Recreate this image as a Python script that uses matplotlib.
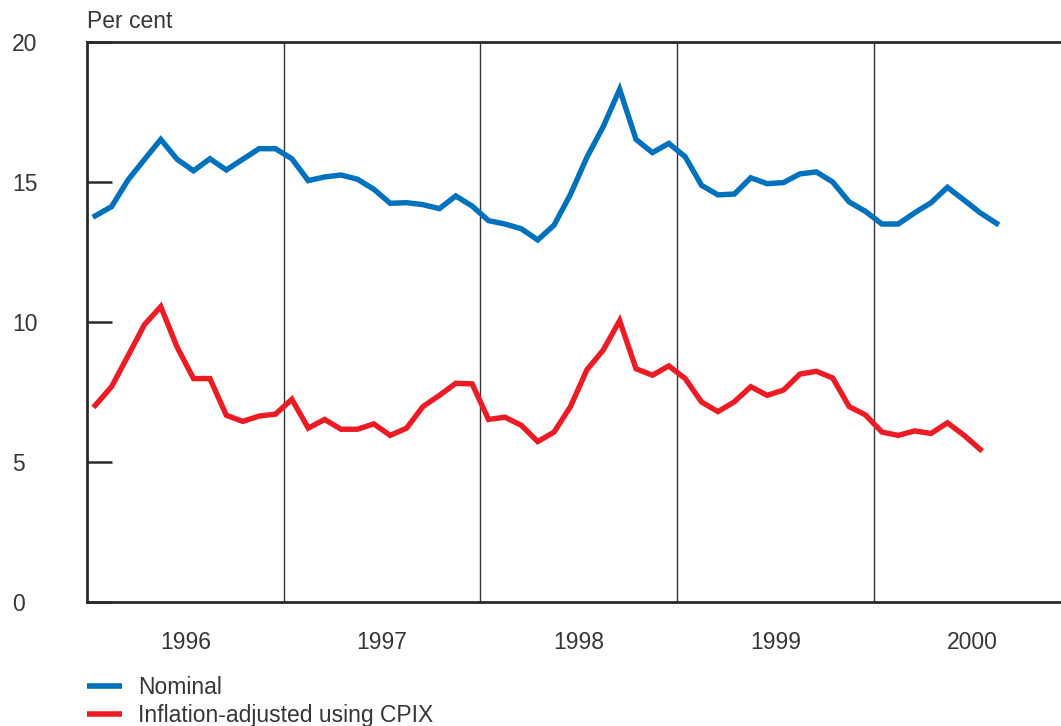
import matplotlib
matplotlib.use("Agg")
import matplotlib.pyplot as plt
import numpy as np

plt.rcParams['font.family'] = ['Liberation Sans', 'DejaVu Sans']

# Monthly data, Jan 1996 onwards
nominal = [13.79, 14.12, 15.07, 15.80, 16.52, 15.81, 15.40, 15.83, 15.43, 15.81, 16.19, 16.19,
           15.83, 15.05, 15.18, 15.25, 15.10, 14.74, 14.24, 14.26, 14.19, 14.05, 14.50, 14.14,
           13.62, 13.50, 13.33, 12.93, 13.46, 14.56, 15.88, 16.98, 18.31, 16.52, 16.05, 16.38,
           15.90, 14.88, 14.54, 14.57, 15.15, 14.94, 14.98, 15.29, 15.36, 15.00, 14.29, 13.95,
           13.50, 13.50, 13.90, 14.26, 14.81, 14.36, 13.90, 13.52]
real_cpix = [7.02, 7.69, 8.79, 9.90, 10.55, 9.10, 7.98, 7.98, 6.67, 6.45, 6.64, 6.71,
             7.24, 6.21, 6.52, 6.17, 6.17, 6.36, 5.95, 6.21, 6.98, 7.38, 7.81, 7.79,
             6.52, 6.60, 6.31, 5.73, 6.07, 6.98, 8.29, 9.00, 10.05, 8.33, 8.10, 8.43,
             7.98, 7.14, 6.80, 7.15, 7.69, 7.38, 7.57, 8.14, 8.24, 8.00, 6.98, 6.68,
             6.07, 5.95, 6.11, 6.02, 6.40, 5.96, 5.45]
years = [1996, 1997, 1998, 1999, 2000]
series_labels = ['Nominal', 'Inflation-adjusted using CPIX']
y_ticks = [0, 5, 10, 15, 20]

start_year = 1996
x_nom = start_year + (np.arange(len(nominal)) + 0.5) / 12
x_real = start_year + (np.arange(len(real_cpix)) + 0.5) / 12

W, H = 1061, 726
fig = plt.figure(figsize=(W / 100, H / 100), dpi=100)
ax = fig.add_axes([87 / W, 1 - 602 / H, 1 - 87 / W, (602 - 42) / H])

blue = '#0071BC'
red = '#ED1C24'
txt = '#363636'
fs = 16.5

l1, = ax.plot(x_nom, nominal, color=blue, lw=3.9, solid_joinstyle='miter', zorder=3)
l2, = ax.plot(x_real, real_cpix, color=red, lw=3.9, solid_joinstyle='miter', zorder=3)

for yr in years[1:]:
    ax.axvline(yr, color='#333333', lw=1.0, zorder=2)

ax.set_xlim(1996, 1996 + (W - 87) / 196.67)
ax.set_ylim(0, 20)

for s in ['left', 'bottom', 'top']:
    ax.spines[s].set_linewidth(2.0)
    ax.spines[s].set_color('#2a2a2a')
ax.spines['right'].set_visible(False)

ax.set_yticks(y_ticks)
ax.set_yticklabels([str(v) for v in y_ticks])
ax.tick_params(axis='y', direction='in', length=18, width=1.8, color='#2a2a2a',
               pad=54, labelsize=fs, labelcolor=txt)
for lab in ax.get_yticklabels():
    lab.set_horizontalalignment('left')

ax.set_xticks([y + 0.5 for y in years])
ax.set_xticklabels([str(y) for y in years])
ax.tick_params(axis='x', length=0, pad=21, labelsize=fs, labelcolor=txt)

fig.text(87 / W, 1 - 21 / H, 'Per cent', fontsize=fs, color=txt, ha='left', va='center')

leg = fig.legend([l1, l2], series_labels, loc='upper left',
                 bbox_to_anchor=(87 / W, 1 - 676 / H), frameon=False,
                 fontsize=fs, handlelength=1.53, handletextpad=0.7,
                 labelspacing=0.22, borderpad=0, borderaxespad=0, labelcolor=txt)
for h in leg.legend_handles:
    h.set_linewidth(4.0)
    h.set_solid_capstyle('butt')

fig.savefig('out.png', dpi=100)
